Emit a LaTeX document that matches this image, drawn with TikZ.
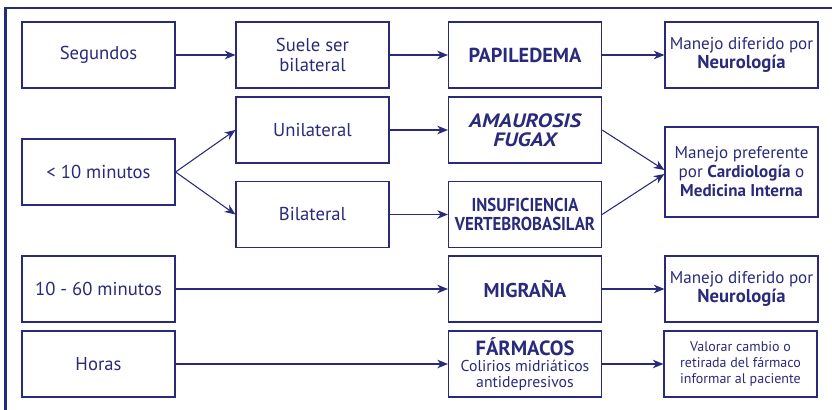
\documentclass[tikz,border=0pt]{standalone}
\usepackage{fontspec}
\setmainfont{PT Sans}
\newfontfamily\condbf[FakeStretch=0.9]{PT Sans}
\newfontfamily\widebf[FakeStretch=1.15]{PT Sans}
\usetikzlibrary{arrows.meta}
\definecolor{navy}{RGB}{42,42,122}
\tikzset{
  box/.style={draw=navy, line width=0.9pt, inner sep=0pt, minimum width=114.75pt,
    minimum height=49.5pt, align=center, text=navy, font=\fontsize{14}{14.3}\selectfont},
  rbox/.style={box, font=\fontsize{12.8}{14.3}\selectfont},
  smallbox/.style={box, font=\fontsize{10.5}{12.3}\selectfont},
  conn/.style={draw=navy, line width=0.8pt, -{Stealth[length=8pt,width=6.5pt,inset=2.5pt]}},
  frame/.style={draw=navy, line width=1.9pt}
}
\begin{document}
\begin{tikzpicture}[x=0.75pt,y=-0.75pt]
\useasboundingbox (0,0) rectangle (832,410);
\coordinate (fa) at (5.3,420);
\coordinate (fb) at (5.3,8);
\coordinate (fc) at (840,8);
\draw[frame] (fa) -- (fb) -- (fc);
% column 1
\node[box] (seg) at (98.5,55) {Segundos};
\node[box] (diez) at (98.5,172) {{<} 10 minutos};
\node[box] (mig1) at (98.5,289) {10 - 60 minutos};
\node[box] (hor) at (98.5,364) {Horas};
% column 2
\node[box] (suele) at (312.5,55) {Suele ser\\bilateral};
\node[box] (uni) at (312.5,130) {Unilateral};
\node[box] (bil) at (312.5,214.5) {Bilateral};
% column 3
\node[box, font=\fontsize{15.2}{14.3}\selectfont] (pap) at (525,55) {\textbf{PAPILEDEMA}};
\node[box, font=\fontsize{14.5}{14.6}\selectfont] (ama) at (525,130) {{\widebf\bfseries\itshape AMAUROSIS}\\{\widebf\bfseries\itshape FUGAX}};
\node[box] (ins) at (525,214.5) {{\condbf\bfseries INSUFICIENCIA}\\{\condbf\bfseries VERTEBROBASILAR}};
\node[box, font=\fontsize{15}{14.3}\selectfont] (migr) at (525,289) {\textbf{MIGRAÑA}};
\node[box, font=\fontsize{11.8}{12.2}\selectfont] (far) at (525,364) {{\fontsize{15.4}{12.2}\selectfont\textbf{FÁRMACOS}}\\Colirios midriáticos\\antidepresivos};
% column 4
\node[rbox] (man1) at (741.5,55) {Manejo diferido por\\{\fontsize{14}{14.3}\selectfont\textbf{Neurología}}};
\node[rbox, minimum height=67.5pt] (pref) at (741.5,172) {Manejo preferente\\por \textbf{Cardiología} o\\\textbf{Medicina Interna}};
\node[rbox] (man3) at (741.5,289) {Manejo diferido por\\{\fontsize{14}{14.3}\selectfont\textbf{Neurología}}};
\node[smallbox] (val) at (740.5,364) {Valorar cambio o\\retirada del fármaco\\informar al paciente};
% connectors
\draw[conn] (seg) -- (suele);
\draw[conn] (suele) -- (pap);
\draw[conn] (pap) -- (man1);
\draw[conn] (diez.east) -- (uni.west);
\draw[conn] (diez.east) -- (bil.west);
\draw[conn] (uni) -- (ama);
\draw[conn] (bil) -- (ins);
\draw[conn] (ama.east) -- ([yshift=1.5pt]pref.west);
\draw[conn] (ins.east) -- ([yshift=-1.5pt]pref.west);
\draw[conn] (mig1) -- (migr);
\draw[conn] (migr) -- (man3);
\draw[conn] (hor) -- (far);
\draw[conn] (far) -- (val);
\end{tikzpicture}
\end{document}
